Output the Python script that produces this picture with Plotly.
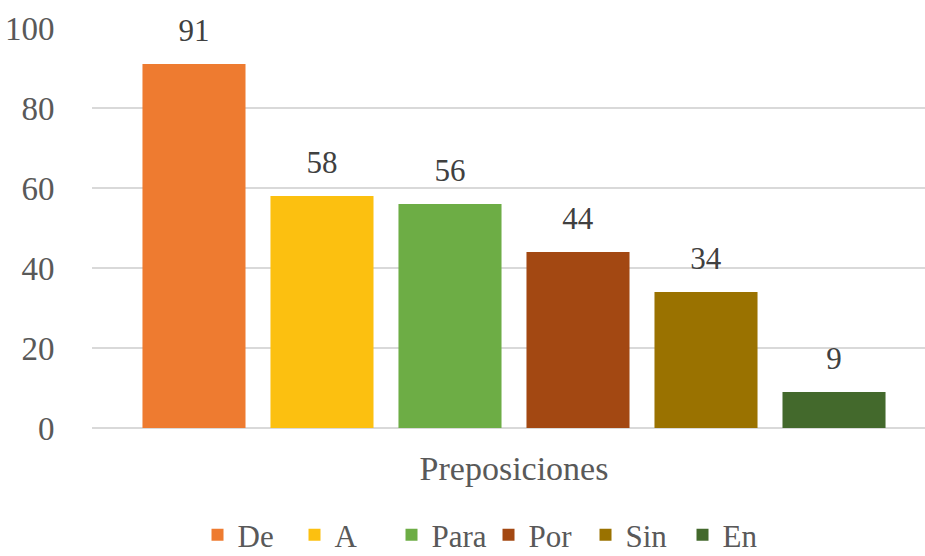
import plotly.graph_objects as go

category = "Preposiciones"
names = ["De", "A", "Para", "Por", "Sin", "En"]
values = [91, 58, 56, 44, 34, 9]
colors = ["#EE7B30", "#FCC010", "#6DAD45", "#A34812", "#9A7200", "#43692C"]

FONT = "Liberation Serif, Times New Roman, serif"
FS = 31
fig = go.Figure()
for n, v, c in zip(names, values, colors):
    fig.add_trace(go.Bar(
        x=[category], y=[v], name=n,
        marker=dict(color=c, line=dict(width=0)),
        text=[f"<span style='font-size:{FS}px'>{v}</span><br> "],
        texttemplate="%{text}",
        textposition="outside",
        textfont=dict(family=FONT, size=13, color="#404040"),
        cliponaxis=False,
    ))

fig.update_layout(
    width=925, height=556,
    margin=dict(l=92, r=0, t=28, b=128, autoexpand=False),
    paper_bgcolor="white", plot_bgcolor="white",
    barmode="group", bargap=0.078, bargroupgap=0.195,
    font=dict(family=FONT, color="#595959", size=FS),
    showlegend=True,
    legend=dict(orientation="h", x=0.476, xanchor="center", y=-0.268, yanchor="middle",
                font=dict(family=FONT, size=FS, color="#595959"),
                itemwidth=30, traceorder="normal", entrywidth=52, entrywidthmode="pixels"),
)
fig.update_xaxes(range=[-0.5066, 0.4934], showgrid=False, showline=False, automargin=False,
                 tickfont=dict(family=FONT, size=34, color="#595959"), ticks="outside",
                 tickcolor="white", ticklen=10)
fig.update_yaxes(range=[0, 100], dtick=20, showgrid=True, gridcolor="#D9D9D9", gridwidth=2,
                 zeroline=True, zerolinecolor="#D9D9D9", zerolinewidth=2, automargin=False,
                 tickfont=dict(family=FONT, size=33, color="#595959"), ticks="outside",
                 tickcolor="white", ticklen=30)
fig.write_html("out.html", post_script="document.body.style.margin='0';",
               config={"displayModeBar": False})
